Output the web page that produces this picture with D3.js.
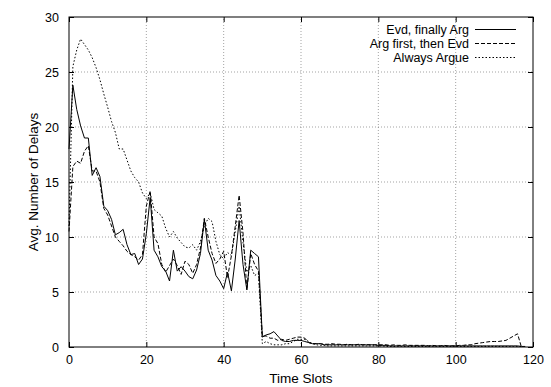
<!DOCTYPE html>
<html>
<meta charset="utf-8">
<script src="https://cdn.jsdelivr.net/npm/d3@7"></script>
<style>
  body { margin: 0; background: white; }
  svg { font-family: "Liberation Sans", Arial, sans-serif; }
</style>
<body>
<div id="chart"></div>
<script>

// values, one per time slot
var evdFinallyArg = [18, 23.8, 21.6, 20.1, 19.0, 19.0, 15.6, 16.3, 15.5, 12.8,
  12.4, 11.6, 10.2, 10.4, 10.7, 9.3, 8.4, 8.5, 7.5, 8.0,
  10.3, 13.6, 8.8, 8.2, 7.3, 6.9, 6.0, 8.8, 6.9, 7.3,
  6.9, 6.4, 6.2, 7.0, 8.5, 11.6, 8.8, 7.9, 6.5, 6.0,
  5.3, 6.8, 5.1, 8.0, 11.5, 7.5, 5.2, 8.8, 8.5, 8.2,
  0.9, 1.1, 1.2, 1.4, 1.0, 0.6, 0.5, 0.5, 0.6, 0.6,
  0.6, 0.5, 0.4, 0.3, 0.3, 0.3, 0.2, 0.2, 0.2, 0.2,
  0.2, 0.2, 0.2, 0.2, 0.2, 0.2, 0.2, 0.2, 0.2, 0.2,
  0.15, 0.15, 0.15, 0.1, 0.1, 0.1, 0.1, 0.1, 0.1, 0.1,
  0.1, 0.1, 0.1, 0.1, 0.1, 0.1, 0.1, 0.1, 0.1, 0.1,
  0.1, 0.1, 0.1, 0.1, 0.1, 0.1, 0.1, 0.1, 0.1, 0.1,
  0.1, 0.1, 0.1, 0.1, 0.1, 0.1, 0.1, 0.05, 0.05]

var argFirstThenEvd = [10.5, 16.4, 16.9, 16.7, 17.8, 18.3, 16.0, 16.0, 15.0, 12.6,
  12.0, 11.0, 10.0, 9.6, 9.2, 8.7, 8.4, 8.2, 7.9, 8.4,
  12.8, 14.2, 10.0, 9.4, 7.5, 6.8, 7.4, 8.0, 7.4, 6.6,
  7.8, 7.5, 6.7, 7.5, 9.0, 11.7, 10.0, 8.5, 7.6, 8.0,
  8.7, 6.3, 8.3, 11.0, 13.8, 10.4, 5.2, 8.5, 7.5, 6.9,
  1.0, 1.0, 0.8, 0.8, 0.6, 0.7, 0.6, 0.7, 0.8, 0.9,
  0.9, 0.8, 0.4, 0.3, 0.3, 0.3, 0.25, 0.25, 0.3, 0.25,
  0.25, 0.2, 0.25, 0.2, 0.2, 0.25, 0.2, 0.2, 0.2, 0.2,
  0.2, 0.2, 0.2, 0.15, 0.2, 0.15, 0.15, 0.2, 0.15, 0.15,
  0.15, 0.15, 0.15, 0.1, 0.15, 0.1, 0.1, 0.15, 0.1, 0.1,
  0.1, 0.15, 0.15, 0.2, 0.2, 0.3, 0.35, 0.4, 0.45, 0.5,
  0.5, 0.5, 0.55, 0.6, 0.8, 1.0, 1.2, 0.0]

var alwaysArgue = [11, 25.5, 27.0, 28.0, 27.5, 27.0, 26.3, 25.4, 24.3, 23.0,
  21.8, 20.5, 19.5, 18.0, 18.0, 17.0, 16.0, 15.4, 15.0, 14.0,
  13.5, 14.0, 12.5, 12.2, 11.9, 10.8, 10.0, 10.5, 9.9, 9.5,
  9.1, 9.0, 9.3, 8.8, 9.6, 11.0, 11.7, 11.4, 9.6, 8.4,
  8.0, 8.6, 8.3, 10.5, 12.8, 9.5, 6.8, 7.4, 6.5, 6.7,
  0.3, 0.5, 0.3, 0.2, 0.2, 0.2, 0.3, 0.3, 0.5, 0.7,
  0.7, 0.7, 0.5, 0.3, 0.2, 0.15, 0.15, 0.1, 0.1, 0.1,
  0.1, 0.1, 0.1, 0.1, 0.1, 0.1, 0.1, 0.1, 0.1, 0.1,
  0.1, 0.1, 0.05, 0.05, 0.05, 0.05, 0.05, 0.05, 0.05, 0.05,
  0.05, 0.05, 0.05, 0.05, 0.05, 0.05, 0.05, 0.05, 0.05, 0.05,
  0.05, 0.05, 0.05, 0.05, 0.05, 0.05, 0.05, 0.05, 0.05, 0.05,
  0.05, 0.05, 0.05, 0.05, 0.05, 0.05, 0.05, 0.05]

var seriesNames = ["Evd, finally Arg", "Arg first, then Evd", "Always Argue"]
var seriesDash = ["none", "4,2", "1.5,2"]
var xTicks = [0, 20, 40, 60, 80, 100, 120]
var yTicks = [0, 5, 10, 15, 20, 25, 30]

var width = 551, height = 387
var margin = {left: 69, right: 18, top: 17, bottom: 40}
var pw = width - margin.left - margin.right
var ph = height - margin.top - margin.bottom

var svg = d3.select("#chart").append("svg")
  .attr("width", width).attr("height", height)

var x = d3.scaleLinear().domain([0, 120]).range([margin.left, margin.left + pw])
var y = d3.scaleLinear().domain([0, 30]).range([margin.top + ph, margin.top])

// grid
var grid = svg.append("g").attr("stroke", "#000").attr("stroke-width", 0.6)
  .attr("stroke-dasharray", "1,2").attr("opacity", 0.6)
grid.selectAll(".gx").data(xTicks.slice(1, -1)).enter().append("line")
  .attr("x1", d => x(d)).attr("x2", d => x(d))
  .attr("y1", y(0)).attr("y2", y(30))
grid.selectAll(".gy").data(yTicks.slice(1, -1)).enter().append("line")
  .attr("y1", d => y(d)).attr("y2", d => y(d))
  .attr("x1", x(0)).attr("x2", x(120))

// axes, ticks inward, mirrored
svg.append("g").attr("transform", "translate(0," + y(0) + ")")
  .call(d3.axisBottom(x).tickValues(xTicks).tickSizeInner(-5).tickSizeOuter(0).tickPadding(8))
svg.append("g").attr("transform", "translate(0," + y(30) + ")")
  .call(d3.axisTop(x).tickValues(xTicks).tickSizeInner(-5).tickSizeOuter(0).tickFormat(""))
svg.append("g").attr("transform", "translate(" + x(0) + ",0)")
  .call(d3.axisLeft(y).tickValues(yTicks).tickSizeInner(-5).tickSizeOuter(0).tickPadding(10))
svg.append("g").attr("transform", "translate(" + x(120) + ",0)")
  .call(d3.axisRight(y).tickValues(yTicks).tickSizeInner(-5).tickSizeOuter(0).tickFormat(""))

svg.selectAll(".domain").remove()
svg.selectAll(".tick text").attr("font-size", 12.5).attr("fill", "#000")
  .attr("font-family", "Liberation Sans, Arial, sans-serif")

svg.append("rect")
  .attr("x", x(0)).attr("y", y(30))
  .attr("width", x(120) - x(0)).attr("height", y(0) - y(30))
  .attr("fill", "none").attr("stroke", "#000").attr("stroke-width", 1)

// lines
var line = d3.line().x((d, i) => x(i)).y(d => y(d))
var allSeries = [evdFinallyArg, argFirstThenEvd, alwaysArgue]
svg.selectAll(".series").data(allSeries).enter().append("path")
  .attr("d", d => line(d))
  .attr("fill", "none").attr("stroke", "#000").attr("stroke-width", 1)
  .attr("stroke-dasharray", (d, i) => seriesDash[i])

// legend
var legend = svg.append("g")
legend.selectAll("text").data(seriesNames).enter().append("text")
  .attr("x", 469).attr("y", (d, i) => 29.5 + i * 14).attr("dy", "0.35em")
  .attr("text-anchor", "end").attr("font-size", 12.5).text(d => d)
legend.selectAll("line").data(seriesNames).enter().append("line")
  .attr("x1", 475).attr("x2", 516)
  .attr("y1", (d, i) => 29.5 + i * 14).attr("y2", (d, i) => 29.5 + i * 14)
  .attr("stroke", "#000").attr("stroke-width", 1)
  .attr("stroke-dasharray", (d, i) => seriesDash[i])

// axis titles
svg.append("text").attr("x", (x(0) + x(120)) / 2).attr("y", 383)
  .attr("text-anchor", "middle").attr("font-size", 13.5).text("Time Slots")
svg.append("text")
  .attr("transform", "translate(38," + (y(15)) + ") rotate(-90)")
  .attr("text-anchor", "middle").attr("font-size", 13.5).text("Avg. Number of Delays")

</script>
</body>
</html>
